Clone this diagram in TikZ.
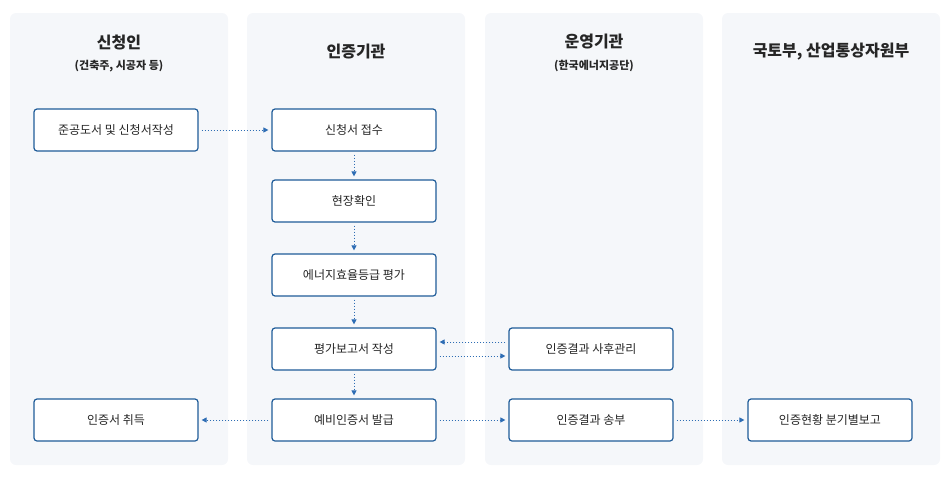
\documentclass[tikz,border=0pt]{standalone}
\usepackage{fontspec}
\setmainfont{Noto Sans CJK KR}
\usetikzlibrary{positioning,arrows.meta}
\definecolor{panelgray}{HTML}{F5F7FA}
\definecolor{boxblue}{HTML}{1F5C99}
\definecolor{arrowblue}{HTML}{2E6DB4}
\tikzset{
  panel/.style={fill=panelgray, draw=none, rounded corners=6pt},
  stepbox/.style={draw=boxblue, line width=1.2pt, fill=white, rounded corners=3pt,
    minimum width=164pt, minimum height=42pt, font=\fontsize{12}{14}\selectfont, text=black!85},
  head/.style={font=\fontsize{16}{18}\selectfont\bfseries, text=black!85},
  subhead/.style={font=\fontsize{11}{13}\selectfont\bfseries, text=black!85},
  flow/.style={arrowblue, line width=1pt, dotted, shorten <=3pt, shorten >=3pt,
    -{Triangle[length=5pt,width=5pt]}}
}
\begin{document}
\begin{tikzpicture}[x=1pt,y=-1pt]
  \useasboundingbox (0,0) rectangle (950,479);
  % lanes
  \fill[panel] (10,13) rectangle (228,465);
  \fill[panel] (247,13) rectangle (465,465);
  \fill[panel] (485,13) rectangle (703,465);
  \fill[panel] (722,13) rectangle (940,465);
  % headers
  \node[head] (h1) at (119,42) {신청인};
  \node[subhead] (s1) at (119,66) {(건축주, 시공자 등)};
  \node[head] (h2) at (356,52) {인증기관};
  \node[head] (h3) at (594,42) {운영기관};
  \node[subhead] (s3) at (594,66) {(한국에너지공단)};
  \node[head] (h4) at (831,52) {국토부, 산업통상자원부};
  % boxes
  \node[stepbox] (apply) at (116,130) {준공도서 및 신청서작성};
  \node[stepbox] (receive) at (354,130) {신청서 접수};
  \node[stepbox] (site) at (354,201) {현장확인};
  \node[stepbox] (rate) at (354,275) {에너지효율등급 평가};
  \node[stepbox] (report) at (354,349) {평가보고서 작성};
  \node[stepbox] (issue) at (354,420) {예비인증서 발급};
  \node[stepbox] (obtain) at (116,420) {인증서 취득};
  \node[stepbox] (manage) at (591,349) {인증결과 사후관리};
  \node[stepbox] (send) at (591,420) {인증결과 송부};
  \node[stepbox] (quarter) at (830,420) {인증현황 분기별보고};
  % connectors
  \draw[flow] (apply) -- (receive);
  \draw[flow] (receive) -- (site);
  \draw[flow] (site) -- (rate);
  \draw[flow] (rate) -- (report);
  \draw[flow] (report) -- (issue);
  \draw[flow] ([yshift=7pt]manage.west) -- ([yshift=7pt]report.east);
  \draw[flow] ([yshift=-7pt]report.east) -- ([yshift=-7pt]manage.west);
  \draw[flow] (issue) -- (obtain);
  \draw[flow] (issue) -- (send);
  \draw[flow] (send) -- (quarter);
\end{tikzpicture}
\end{document}
